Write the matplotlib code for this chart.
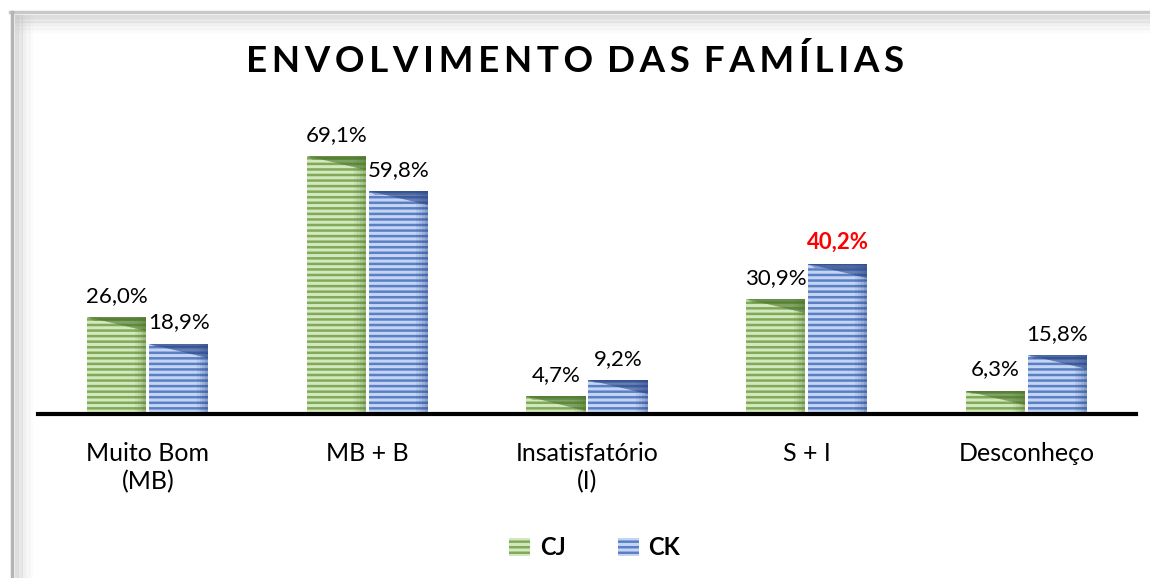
import numpy as np
import matplotlib.pyplot as plt
from matplotlib.patches import Polygon, Rectangle, Patch
from matplotlib.lines import Line2D

# ---------------------------------------------------------------------
#  DATA
# ---------------------------------------------------------------------
categories = ["Muito Bom\n(MB)", "MB + B", "Insatisfatório\n(I)", "S + I", "Desconheço"]
cj_values = [26.0, 69.1, 4.7, 30.9, 6.3]
ck_values = [18.9, 59.8, 9.2, 40.2, 15.8]
series_names = ["CJ", "CK"]
highlight = ("CK", 3)  # label drawn in red bold

plt.rcParams['font.family'] = ['Lato', 'DejaVu Sans']
plt.rcParams['hatch.linewidth'] = 1.8

styles = {
    "CJ": dict(face="#d3e8bf", hatch="#80aa58", dark="#4a7428"),
    "CK": dict(face="#c4d5f4", hatch="#5a7fc4", dark="#2a4686"),
}

fig = plt.figure(figsize=(11.5, 5.78), dpi=100)
ax = fig.add_axes([0.033, 0.2837, 0.955, 0.5433])

x = np.arange(len(categories))
width = 0.27
offset = 0.141


def bevel(ax, rect, dark):
    # darker top wedge and right edge to fake the 3D look
    x0, y0 = rect.get_x(), rect.get_y()
    w, h = rect.get_width(), rect.get_height()
    top = y0 + h
    d = min(3.8, h)
    ax.add_patch(Polygon([(x0, top), (x0 + w, top), (x0 + w, top - d)],
                         closed=True, facecolor=dark, alpha=0.6, lw=0, zorder=3))
    ax.add_patch(Polygon([(x0, top), (x0 + w, top), (x0 + w, top - 1.0), (x0 + 0.03, top - 1.0)],
                         closed=True, facecolor=dark, alpha=0.4, lw=0, zorder=3))
    for k, a in enumerate([0.08, 0.16, 0.26, 0.38]):
        xs = x0 + w * (0.80 + 0.05 * k)
        ax.add_patch(Rectangle((xs, y0), w * 0.05, h, facecolor=dark, alpha=a, lw=0, zorder=3))


for name, vals, sign in [("CJ", cj_values, -1), ("CK", ck_values, 1)]:
    st = styles[name]
    bars = ax.bar(x + sign * offset, vals, width, color=st["face"], edgecolor=st["hatch"],
                  hatch="---", linewidth=0, zorder=2)
    for i, (rect, v) in enumerate(zip(bars, vals)):
        bevel(ax, rect, st["dark"])
        lab = f"{v:.1f}%".replace(".", ",")
        red = (name, i) == highlight
        ax.annotate(lab, (rect.get_x() + rect.get_width() / 2, v), xytext=(0, 8),
                    textcoords="offset points", ha="center", va="bottom",
                    fontsize=16, color="#ff0000" if red else "black",
                    fontweight="bold" if red else "normal", zorder=5)

ax.set_xlim(-0.5, len(categories) - 0.5)
ax.set_ylim(0, 84.2)
ax.set_xticks(x)
ax.set_xticklabels(categories, fontsize=18, linespacing=1.25)
ax.tick_params(axis="x", length=0, pad=20)
ax.set_yticks([])
for s in ["top", "right", "left"]:
    ax.spines[s].set_visible(False)
ax.spines["bottom"].set_linewidth(3)
ax.spines["bottom"].set_zorder(6)
ax.patch.set_alpha(0)

fig.text(0.5, 0.895, "E N V O L V I M E N T O   D A S   F A M Í L I A S".replace(" ", "\u2009"),
         ha="center", va="center", fontsize=26.5, fontweight="bold")

handles = [Patch(facecolor=styles[n]["face"], edgecolor=styles[n]["hatch"], hatch="---",
                 linewidth=0) for n in series_names]
fig.legend(handles, series_names, loc="center", bbox_to_anchor=(0.517, 0.052), ncol=2,
           frameon=False, prop=dict(size=17, weight="bold"), handlelength=0.9,
           handleheight=0.8, handletextpad=0.4, columnspacing=2.2)

# frame around the chart
fig.add_artist(Line2D([0.009, 1.0], [0.980, 0.980], color="#c8c8c8", lw=2.5))
fig.add_artist(Line2D([0.010, 0.010], [0.0, 0.980], color="#b4b4b4", lw=2.5))
for k, a in enumerate([0.5, 0.35, 0.22, 0.12, 0.05]):
    fig.add_artist(Line2D([0.015, 1.0], [0.970 - 0.006 * k] * 2, color="#bfbfbf", lw=3, alpha=a))
    fig.add_artist(Line2D([0.015 + 0.003 * k] * 2, [0.0, 0.970], color="#bfbfbf", lw=3, alpha=a))

fig.savefig("out.png", dpi=100)
